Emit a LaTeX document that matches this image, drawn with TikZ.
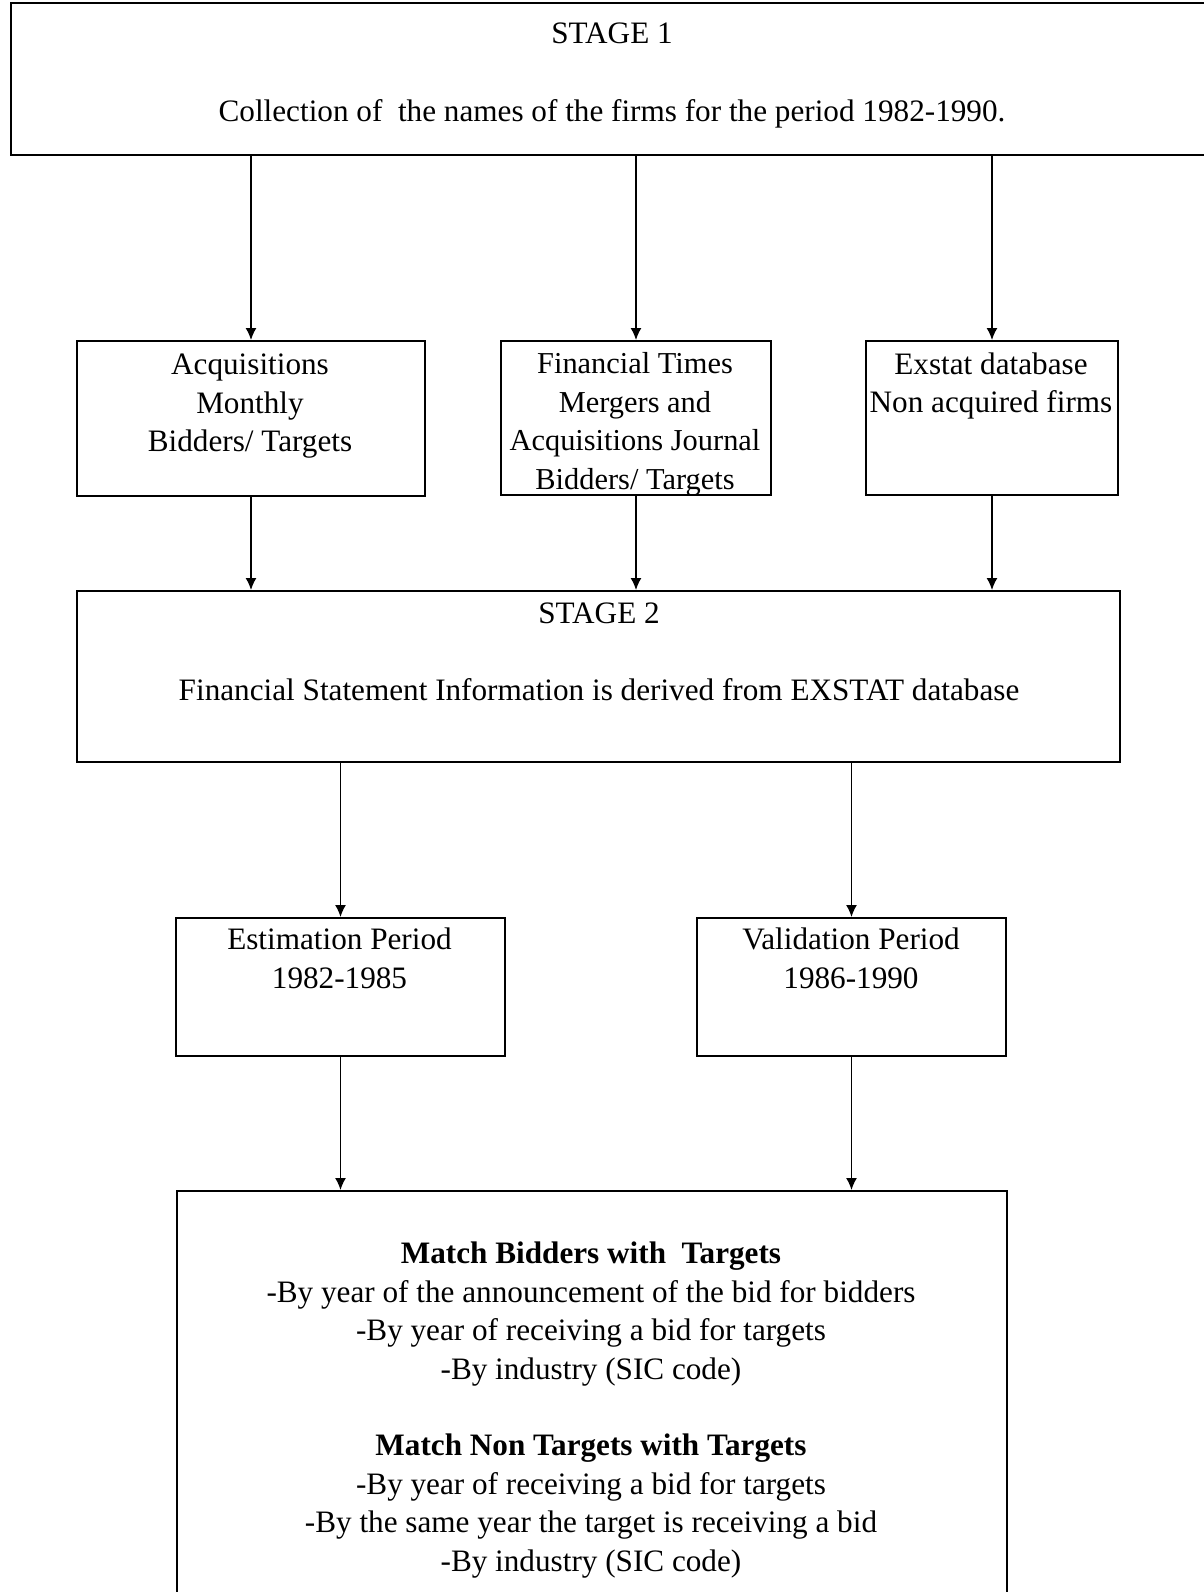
\documentclass[tikz,border=0pt]{standalone}
\usepackage{fontspec}
\setmainfont{Liberation Serif}
\usetikzlibrary{arrows.meta}
\begin{document}
\begin{tikzpicture}[x=0.5pt,y=-0.5pt,
 box/.style={draw, line width=1pt, rectangle, inner sep=0pt, anchor=north west},
 txt/.style={anchor=base, align=center, inner sep=0pt, font=\fontsize{15.6}{19.2}\selectfont},
 arr/.style={line width=0.75pt, -{Latex[length=6pt,width=5.5pt]}}]
\useasboundingbox (0,0) rectangle (1204,1592);
% boxes
\node[box, minimum width=602.5pt, minimum height=76pt] (s1) at (10,2) {};
\node[box, minimum width=174pt, minimum height=77.5pt] (a) at (76,340) {};
\node[box, minimum width=135pt, minimum height=77pt] (b) at (500,340) {};
\node[box, minimum width=126pt, minimum height=77pt] (c) at (865,340) {};
\node[box, minimum width=521.5pt, minimum height=85.5pt] (s2) at (76,590) {};
\node[box, minimum width=164.5pt, minimum height=69pt] (e) at (175,917) {};
\node[box, minimum width=154.5pt, minimum height=69pt] (v) at (696,917) {};
\node[box, minimum width=415pt, minimum height=230pt] (m) at (176,1190) {};
% texts (anchor = baseline of the last line)
\node[txt] (t1) at (612,43.5) {STAGE 1};
\node[txt] (t2) at (612,121) {Collection of~ the names of the firms for the period 1982-1990.};
\node[txt] (ta) at (250,451.5) {Acquisitions\\Monthly\\Bidders/ Targets};
\node[txt, font=\fontsize{15.2}{19.2}\selectfont] (tb) at (635,489) {Financial Times\\Mergers and\\Acquisitions Journal\\Bidders/ Targets};
\node[txt] (tc) at (991,412.5) {Exstat database\\Non acquired firms};
\node[txt] (t3) at (599,623) {STAGE 2};
\node[txt] (t4) at (599,700) {Financial Statement Information is derived from EXSTAT database};
\node[txt] (te) at (339.5,988) {Estimation Period\\1982-1985};
\node[txt] (tv) at (851,988) {Validation Period\\1986-1990};
\node[txt] (tm) at (591,1571) {\textbf{Match Bidders with~ Targets}\\-By year of the announcement of the bid for bidders\\-By year of receiving a bid for targets\\-By industry (SIC code)\\[19.2pt]\textbf{Match Non Targets with Targets}\\-By year of receiving a bid for targets\\-By the same year the target is receiving a bid\\-By industry (SIC code)};
% arrows
\draw[arr] (s1.south -| a.north) -- (a.north);
\draw[arr] (s1.south -| b.north) -- (b.north);
\draw[arr] (s1.south -| c.north) -- (c.north);
\draw[arr] (a.south) -- (a.south |- s2.north);
\draw[arr] (b.south) -- (b.south |- s2.north);
\draw[arr] (c.south) -- (c.south |- s2.north);
\draw[arr] (s2.south -| e.north) -- (e.north);
\draw[arr] (s2.south -| v.north) -- (v.north);
\draw[arr] (e.south) -- (e.south |- m.north);
\draw[arr] (v.south) -- (v.south |- m.north);
\end{tikzpicture}
\end{document}
